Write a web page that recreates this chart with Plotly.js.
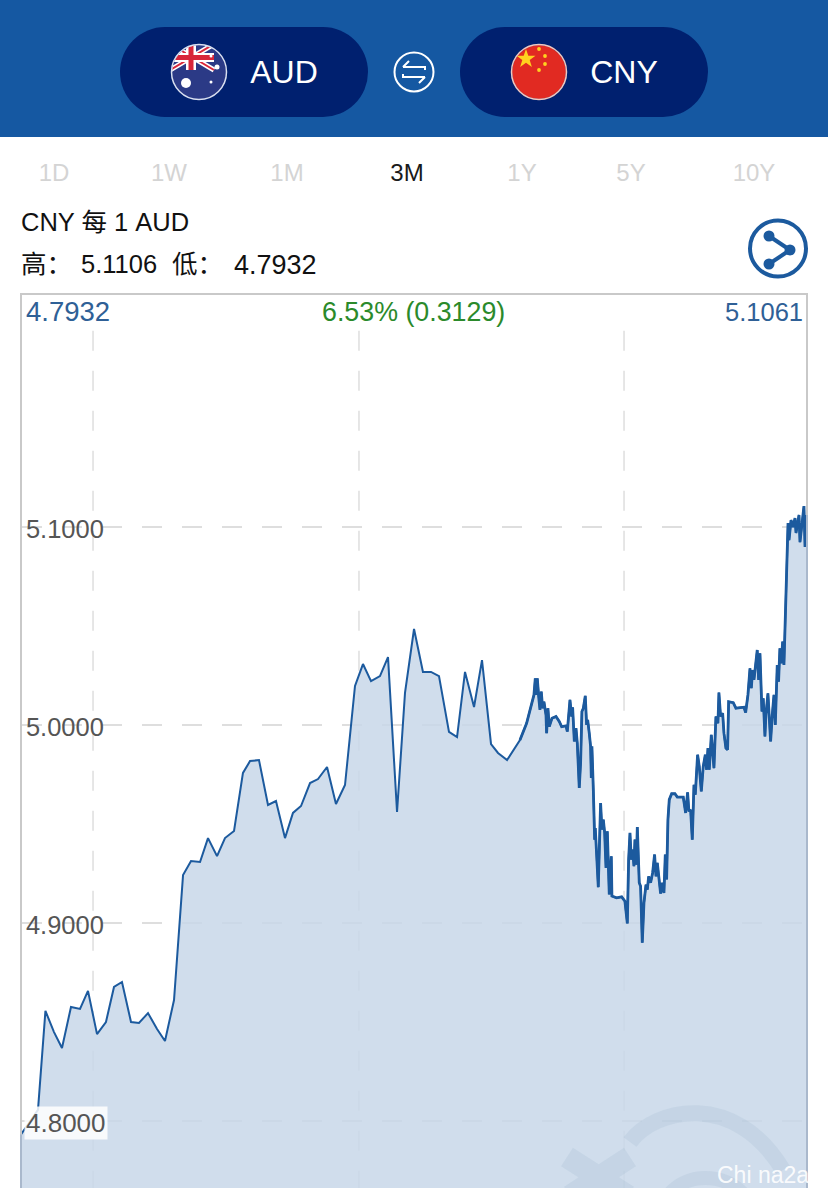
<!DOCTYPE html>
<html><head><meta charset="utf-8">
<script src="https://cdn.plot.ly/plotly-3.0.1.min.js"></script>
<style>
html,body{margin:0;padding:0;background:#fff;width:828px;height:1188px;overflow:hidden;font-family:"Liberation Sans","Noto Sans CJK SC",sans-serif}
#chart{position:absolute;left:0;top:0;width:828px;height:1188px}
#over{position:absolute;left:0;top:0;width:828px;height:1188px;pointer-events:none}
.t{position:absolute;white-space:nowrap;line-height:1;transform:translate(-50%,-50%)}
.l{position:absolute;white-space:nowrap;line-height:1;transform:translateY(-50%);color:#111;font-size:25.5px}
</style></head><body>
<div id="chart"></div>
<div id="over">
<svg width="828" height="1188" style="position:absolute;left:0;top:0">
  <defs>
    <clipPath id="au"><circle cx="199" cy="72" r="27"/></clipPath>
    <clipPath id="cn"><circle cx="539" cy="72" r="27"/></clipPath>
    <clipPath id="wm"><rect x="22" y="295" width="784" height="893"/></clipPath>
  </defs>
  <rect x="0" y="0" width="828" height="137" fill="#1558a2"/>
  <rect x="120" y="27" width="248" height="90" rx="45" fill="#00206f"/>
  <rect x="460" y="27" width="248" height="90" rx="45" fill="#00206f"/>
  <g clip-path="url(#au)">
    <rect x="170" y="43" width="58" height="58" fill="#2b3a86"/>
    <g stroke="#fff" stroke-width="5"><line x1="170" y1="44" x2="214" y2="70"/><line x1="214" y1="44" x2="170" y2="70"/></g>
    <g stroke="#d8263a" stroke-width="2"><line x1="170" y1="44" x2="214" y2="70"/><line x1="214" y1="44" x2="170" y2="70"/></g>
    <rect x="170" y="53" width="44" height="9" fill="#fff"/><rect x="186" y="43" width="10" height="27" fill="#fff"/>
    <rect x="170" y="55" width="44" height="5" fill="#d8263a"/><rect x="188.500" y="43" width="5" height="27" fill="#d8263a"/>
    <circle cx="186" cy="83" r="5" fill="#fff"/><circle cx="217" cy="67" r="2.500" fill="#fff"/><circle cx="211" cy="82" r="1.500" fill="#fff"/><circle cx="211" cy="56" r="1.500" fill="#fff"/>
  </g>
  <circle cx="199" cy="72" r="27.500" fill="none" stroke="#d9dff0" stroke-width="1.500"/>
  <g clip-path="url(#cn)">
    <rect x="510" y="43" width="58" height="58" fill="#e12a22"/>
    <path d="M526 49l2.300 6.800h7.200l-5.800 4.300 2.200 6.900-5.900-4.200-5.900 4.200 2.200-6.900-5.800-4.300h7.200z" fill="#ffd21f"/>
    <circle cx="539" cy="49" r="1.900" fill="#ffd21f"/><circle cx="545" cy="56" r="1.900" fill="#ffd21f"/><circle cx="545" cy="64" r="1.900" fill="#ffd21f"/><circle cx="539" cy="70" r="1.900" fill="#ffd21f"/>
  </g>
  <circle cx="539" cy="72" r="27.500" fill="none" stroke="#f0c8c0" stroke-width="1.500"/>
  <circle cx="414" cy="72" r="19.500" fill="none" stroke="#fff" stroke-width="2"/>
  <g fill="none" stroke="#fff" stroke-width="2"><path d="M403 67h22v3M403 67l6-6"/><path d="M425 77h-22v-3M425 77l-6 6"/></g>
  <circle cx="778" cy="248.500" r="28" fill="none" stroke="#1c5a9e" stroke-width="4"/>
  <g fill="#1c5a9e" stroke="#1c5a9e" stroke-width="4"><line x1="769" y1="236" x2="790" y2="250"/><line x1="790" y1="250" x2="769" y2="264"/></g>
  <circle cx="769" cy="236" r="5.500" fill="#1c5a9e"/><circle cx="790" cy="250" r="5.500" fill="#1c5a9e"/><circle cx="769" cy="264" r="5.500" fill="#1c5a9e"/>
  <g fill="none" stroke="#8fabc6" stroke-opacity="0.17" stroke-linecap="butt" clip-path="url(#wm)">
    <path d="M630 1142C655 1108 735 1090 783 1170" stroke-width="16"/>
    <path d="M567 1157L628 1196M630 1157L570 1196" stroke-width="22"/>
    <path d="M668 1196C685 1172 725 1172 745 1196" stroke-width="14"/>
  </g>
</svg>
<div class="t" style="left:284px;top:72px;font-size:32px;color:#fff">AUD</div>
<div class="t" style="left:624px;top:72px;font-size:32px;color:#fff">CNY</div>
<div class="t" style="left:54px;top:173px;font-size:24px;color:#d4d4d4">1D</div>
<div class="t" style="left:169px;top:173px;font-size:24px;color:#d4d4d4">1W</div>
<div class="t" style="left:287px;top:173px;font-size:24px;color:#d4d4d4">1M</div>
<div class="t" style="left:407px;top:173px;font-size:24px;color:#1a1a1a">3M</div>
<div class="t" style="left:522px;top:173px;font-size:24px;color:#d4d4d4">1Y</div>
<div class="t" style="left:631px;top:173px;font-size:24px;color:#d4d4d4">5Y</div>
<div class="t" style="left:754px;top:173px;font-size:24px;color:#d4d4d4">10Y</div>
<div class="l" style="left:21px;top:223px">CNY 每 1 AUD</div>
<div class="l" style="left:21px;top:265px">高：</div>
<div class="l" style="left:81px;top:265px">5.1106</div>
<div class="l" style="left:172px;top:265px">低：</div>
<div class="l" style="left:234px;top:265px;font-size:27px">4.7932</div>
<div class="l" style="left:717px;top:1175px;font-size:23px;color:rgba(255,255,255,.9)">Chi na2a</div>
</div>
<script>
const days = [0,1.92,2.76,3.73,4.63,5.65,6.67,7.57,8.59,9.60,10.51,11.41,12.43,13.33,14.35,15.37,16.27,17.29,18.31,19.21,20.23,21.13,22.15,23.05,24.07,25.08,25.88,26.89,27.91,28.81,29.83,30.73,31.64,32.66,33.56,34.58,35.59,36.61,37.74,38.64,39.55,40.56,41.47,42.49,43.39,44.41,45.42,46.33,47.23,48.36,49.27,50.17,51.19,52.09,53.11,53.90,54.92,55.82,
56.38,57.13,57.96,58.11,58.19,58.34,58.49,58.64,58.79,58.94,59.09,59.32,59.39,59.54,59.69,60.00,60.45,60.82,61.09,61.58,61.73,61.84,62.03,62.22,62.33,62.52,62.71,62.86,63.08,63.23,63.38,63.54,63.76,63.91,64.03,64.21,64.36,64.44,64.51,64.67,64.82,64.89,65.12,65.23,65.49,65.64,65.80,65.95,66.10,66.25,66.47,66.70,66.77,67.30,67.87,68.24,68.51,68.66,68.81,68.96,69.11,69.26,69.37,69.52,69.64,69.86,70.01,70.20,70.39,70.62,70.77,70.92,71.14,71.37,71.59,71.75,71.90,72.12,72.27,72.42,72.65,72.80,72.95,73.10,73.25,73.52,73.89,74.16,74.83,75.10,75.32,75.47,75.66,75.85,76.04,76.19,76.45,76.64,76.87,77.09,77.32,77.47,77.62,77.77,78.00,78.30,78.52,78.75,78.86,79.05,79.28,79.43,79.65,79.84,79.96,80.48,80.78,81.69,81.88,82.14,82.37,82.52,82.67,82.82,82.97,83.19,83.35,83.50,83.72,83.87,84.06,84.17,84.40,84.55,84.70,84.89,85.08,85.23,85.45,85.60,85.75,85.91,86.06,86.21,86.36,
86.44,86.55,86.67,86.78,87.01,87.23,87.46,87.57,87.91,88.02,88.25,88.47,88.59,88.81];
const rates = [4.7932,4.8056,4.8556,4.8449,4.8369,4.8576,4.8566,4.8657,4.8439,4.8500,4.8677,4.8702,4.8500,4.8495,4.8545,4.8465,4.8404,4.8611,4.9242,4.9313,4.9308,4.9429,4.9338,4.9429,4.9465,4.9758,4.9818,4.9823,4.9596,4.9616,4.9429,4.9556,4.9591,4.9707,4.9727,4.9788,4.9601,4.9697,5.0197,5.0308,5.0222,5.0247,5.0343,4.9561,5.0162,5.0485,5.0268,5.0268,5.0247,4.9965,4.9939,5.0268,5.0091,5.0328,4.9904,4.9859,4.9823,4.9884,
4.9924,5.0009,5.0152,5.0236,5.0152,5.0236,5.0144,5.0076,5.0169,5.0085,5.0118,5.0051,4.9959,5.0085,4.9992,5.0034,5.0043,5.0018,4.9992,4.9996,4.9967,5.0043,5.0127,5.0043,5.0090,4.9917,4.9984,4.9908,4.9682,4.9808,5.0068,5.0085,5.0147,5.0001,5.0026,4.9959,4.9892,4.9732,4.9892,4.9673,4.9421,4.9480,4.9220,4.9181,4.9606,4.9472,4.9522,4.9455,4.9278,4.9463,4.9144,4.9337,4.9136,4.9127,4.9132,4.9110,4.8998,4.9320,4.9455,4.9320,4.9371,4.9287,4.9421,4.9295,4.9485,4.9203,4.9186,4.8900,4.9102,4.9194,4.9169,4.9236,4.9203,4.9253,4.9346,4.9236,4.9304,4.9220,4.9149,4.9203,4.9152,4.9346,4.9220,4.9522,4.9623,4.9653,4.9653,4.9636,4.9636,4.9556,4.9660,4.9564,4.9572,4.9421,4.9698,4.9648,4.9850,4.9791,4.9665,4.9791,4.9850,4.9774,4.9883,4.9774,4.9950,4.9782,5.0043,5.0009,5.0164,5.0043,5.0060,4.9959,4.9883,4.9875,5.0118,5.0113,5.0085,5.0090,5.0063,5.0152,5.0286,5.0186,5.0278,5.0228,5.0303,5.0379,5.0228,5.0362,5.0068,5.0135,4.9942,5.0051,5.0160,5.0026,4.9917,5.0051,5.0152,5.0001,5.0303,5.0219,5.0387,5.0312,5.0421,5.0303,5.0530,
5.0682,5.0899,5.1020,5.0934,5.1035,5.1000,5.1045,5.0970,5.1061,5.0924,5.1020,5.1106,5.0899,5.1061];
const denseFrom = 58;
const yTicks = [5.1, 5.0, 4.9];
const yTickLabels = ["5.1000","5.0000","4.9000"];
const boxedTick = 4.8, boxedLabel = "4.8000";
const monthLines = [8.14, 38.19, 68.14];
const startLabel = "4.7932", changeLabel = "6.53% (0.3129)", endLabel = "5.1061";
const yRange = [4.76616, 5.2172], xRange = [0.113, 88.70];
const font = '"Liberation Sans", sans-serif';

const shapes = monthLines.map(d => ({type:'line', xref:'x', yref:'paper', x0:d, x1:d, y0:0.96, y1:0,
  layer:'below', line:{color:'#dedede', width:1.5, dash:'20px,20px'}}));
shapes.push({type:'line', xref:'paper', yref:'y', x0:-0.00128, x1:-0.00128, y0:yRange[0], y1:rates[0], layer:'above', line:{color:'#a9b8cc', width:2}});
shapes.push({type:'line', xref:'paper', yref:'y', x0:1.00128, x1:1.00128, y0:yRange[0], y1:rates[rates.length-1], layer:'above', line:{color:'#a9b8cc', width:2}});
const topY = 0.9815;
const annotations = [
  {text:startLabel, xref:'paper', yref:'paper', x:0.0022, y:topY, xanchor:'left', yanchor:'middle', showarrow:false, font:{family:font,size:27.5,color:'#2f6096'}},
  {text:changeLabel, xref:'paper', yref:'paper', x:0.4994, y:topY, xanchor:'center', yanchor:'middle', showarrow:false, font:{family:font,size:26.8,color:'#2b8a2b'}},
  {text:endLabel, xref:'paper', yref:'paper', x:0.9987, y:topY, xanchor:'right', yanchor:'middle', showarrow:false, font:{family:font,size:25.5,color:'#2f6096'}},
  {text:boxedLabel, xref:'paper', yref:'y', x:0.002, y:boxedTick, xanchor:'left', yanchor:'middle', showarrow:false, yshift:-2,
   bgcolor:'rgba(255,255,255,0.85)', borderpad:1, font:{family:font,size:26,color:'#555'}}
];
Plotly.newPlot('chart', [{
  x:days, y:rates, type:'scatter', mode:'lines', fill:'tozeroy',
  line:{color:'#1c5a9e', width:2, shape:'linear'}, fillcolor:'rgba(200,215,233,0.85)', hoverinfo:'skip'
},{
  x:days.slice(denseFrom), y:rates.slice(denseFrom), type:'scatter', mode:'lines',
  line:{color:'#1c5a9e', width:2.8, shape:'linear'}, hoverinfo:'skip'
}], {
  width:828, height:1188, margin:{l:22,r:22,t:295,b:0,pad:0},
  paper_bgcolor:'rgba(0,0,0,0)', plot_bgcolor:'#fff', showlegend:false,
  xaxis:{range:xRange, showgrid:false, zeroline:false, showticklabels:false, ticks:'', showline:true, mirror:true, linecolor:'#c9c9c9', linewidth:2},
  yaxis:{range:yRange, tickmode:'array', tickvals:yTicks.concat([boxedTick]), ticktext:yTickLabels.concat(['']), ticks:'',
    ticklabelposition:'inside', ticklabelstandoff:6, ticklabelshift:2, tickfont:{family:font,size:25.5,color:'#555'}, showgrid:true, griddash:'20px,20px', gridcolor:'#dedede', gridwidth:1.5,
    zeroline:false, showline:true, mirror:true, linecolor:'#c9c9c9', linewidth:2},
  shapes, annotations
}, {staticPlot:true, displayModeBar:false});
</script>
</body></html>
